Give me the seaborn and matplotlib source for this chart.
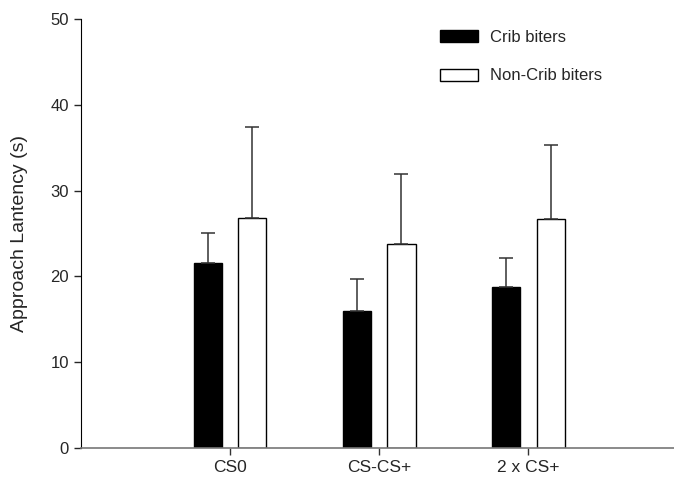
# ==== IMPORT LIBRARIES ====
import pandas as pd
import matplotlib
matplotlib.use("Agg")
import matplotlib.pyplot as plt
import seaborn as sns

# ==== DATA ====
conditions = ["CS0", "CS-CS+", "2 x CS+"]
groups = ["Crib biters", "Non-Crib biters"]
crib_mean = [21.6, 15.9, 18.7]
crib_err = [3.5, 3.8, 3.4]
noncrib_mean = [26.8, 23.8, 26.7]
noncrib_err = [10.6, 8.2, 8.6]

df = pd.DataFrame({
    "Condition": conditions * 2,
    "Group": [groups[0]] * 3 + [groups[1]] * 3,
    "Latency": crib_mean + noncrib_mean,
})

# ==== STYLE ====
sns.set_style("ticks")
plt.rcParams["font.family"] = ["Liberation Sans", "DejaVu Sans"]

# ==== BAR CHART ====
fig = plt.figure(figsize=(6.74, 4.79), dpi=100)
ax = fig.add_axes([0.12, 0.0656, 0.885, 0.894])

sns.barplot(data=df, x="Condition", y="Latency", hue="Group",
            order=conditions, hue_order=groups,
            palette={"Crib biters": "black", "Non-Crib biters": "white"},
            edgecolor="black", linewidth=1, width=0.6, gap=0.37,
            errorbar=None, ax=ax)

# upper error bars only
for cont, errs in zip(ax.containers, [crib_err, noncrib_err]):
    xs = [b.get_x() + b.get_width() / 2 for b in cont]
    ys = [b.get_height() for b in cont]
    ax.errorbar(xs, ys, yerr=[[0] * len(errs), errs], fmt="none",
                ecolor="#333333", elinewidth=1.1, capsize=4.8, capthick=1.1)

ax.set_xlim(-1, 3)
ax.set_ylim(0, 50)
ax.set_yticks([0, 10, 20, 30, 40, 50])
ax.set_xlabel("")
ax.set_ylabel("Approach Lantency (s)", fontsize=14, labelpad=16)
ax.tick_params(axis="y", labelsize=12, length=5, width=1)
ax.tick_params(axis="x", labelsize=12.5, length=5, width=1, color="#333333", pad=4)

sns.despine(ax=ax)
ax.spines["left"].set_color("black")
ax.spines["bottom"].set_color("#777777")
ax.spines["bottom"].set_linewidth(1.2)

leg = ax.legend(loc="upper left", bbox_to_anchor=(0.577, 1.01), frameon=False,
                fontsize=12, handlelength=2.3, handleheight=0.72,
                labelspacing=1.4, handletextpad=0.7)

plt.savefig("out.png", dpi=100)
